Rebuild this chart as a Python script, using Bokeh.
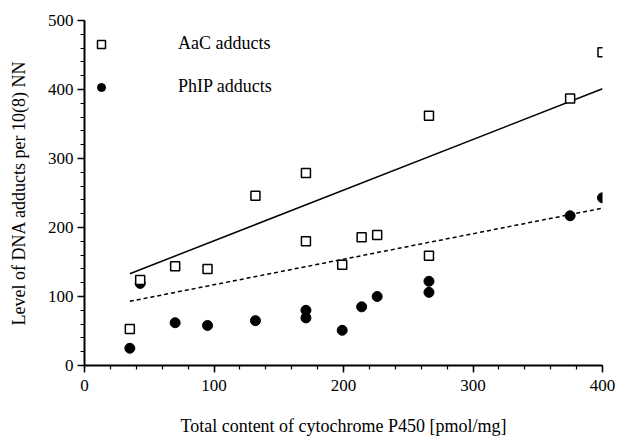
from bokeh.plotting import figure
from bokeh.models import Range1d, Legend, LegendItem, SingleIntervalTicker, ColumnDataSource
from bokeh.embed import file_html
from bokeh.resources import INLINE

# Data
p450_aac = [35, 43, 70, 95, 132, 171, 171, 199, 214, 226, 266, 266, 375, 400]
aac_adducts = [53, 124, 144, 140, 246, 279, 180, 146, 186, 189, 159, 362, 387, 454]

p450_phip = [35, 43, 70, 95, 132, 171, 171, 199, 214, 226, 266, 266, 375, 400]
phip_adducts = [25, 119, 62, 58, 65, 80, 69, 51, 85, 100, 122, 106, 217, 243]

fit_x = [35, 400]
aac_fit = [133, 401]
phip_fit = [93, 228]

x_label = "Total content of cytochrome P450 [pmol/mg]"
y_label = "Level of DNA adducts per 10(8) NN"
series_names = ["AaC adducts", "PhIP adducts"]

FONT = "Liberation Serif"

p = figure(width=617, height=438, output_backend="svg", toolbar_location=None,
           x_range=Range1d(0, 400), y_range=Range1d(0, 500),
           min_border_left=84, min_border_top=20, min_border_right=15, min_border_bottom=71)
p.outline_line_color = None
p.xgrid.visible = False
p.ygrid.visible = False

aac_src = ColumnDataSource(dict(x=p450_aac, y=aac_adducts))
phip_src = ColumnDataSource(dict(x=p450_phip, y=phip_adducts))
fit_src = ColumnDataSource(dict(x=fit_x, aac=aac_fit, phip=phip_fit))

p.line("x", "aac", source=fit_src, line_color="black", line_width=1.5)
p.line("x", "phip", source=fit_src, line_color="black", line_width=1.5, line_dash="4 3")

r_phip = p.scatter("x", "y", source=phip_src, marker="circle", size=10,
                   fill_color="black", line_color="black", line_width=1)
r_aac = p.scatter("x", "y", source=aac_src, marker="square", size=9,
                  fill_color="white", line_color="black", line_width=1.5)

for ax in (p.xaxis[0], p.yaxis[0]):
    ax.axis_line_width = 2
    ax.axis_line_color = "black"
    ax.major_tick_out = 7
    ax.major_tick_in = 0
    ax.minor_tick_out = 4
    ax.minor_tick_in = 0
    ax.major_tick_line_width = 1.5
    ax.minor_tick_line_width = 1.2
    ax.major_label_text_font = FONT
    ax.major_label_text_font_size = "17px"
    ax.major_label_text_color = "black"
    ax.major_label_text_line_height = 1.0
    ax.axis_label_text_font = FONT
    ax.axis_label_text_font_size = "18px"
    ax.axis_label_text_font_style = "normal"
    ax.axis_label_text_color = "black"
    ax.axis_label_text_line_height = 1.0
    ax.ticker = SingleIntervalTicker(interval=100, num_minor_ticks=5)

p.xaxis.axis_label = x_label
p.yaxis.axis_label = y_label
p.xaxis.major_label_standoff = 7
p.yaxis.major_label_standoff = 4
p.xaxis.axis_label_standoff = 22
p.yaxis.axis_label_standoff = 16

legend = Legend(items=[LegendItem(label=series_names[0], renderers=[r_aac]),
                       LegendItem(label=series_names[1], renderers=[r_phip])],
                location=(7, 268), margin=0, padding=0, spacing=22,
                glyph_width=20, glyph_height=20, label_height=20,
                label_standoff=67, border_line_color=None, background_fill_alpha=0,
                label_text_font=FONT, label_text_font_size="18px", label_text_color="black")
p.add_layout(legend)

open("out.html", "w").write(file_html(p, INLINE))
